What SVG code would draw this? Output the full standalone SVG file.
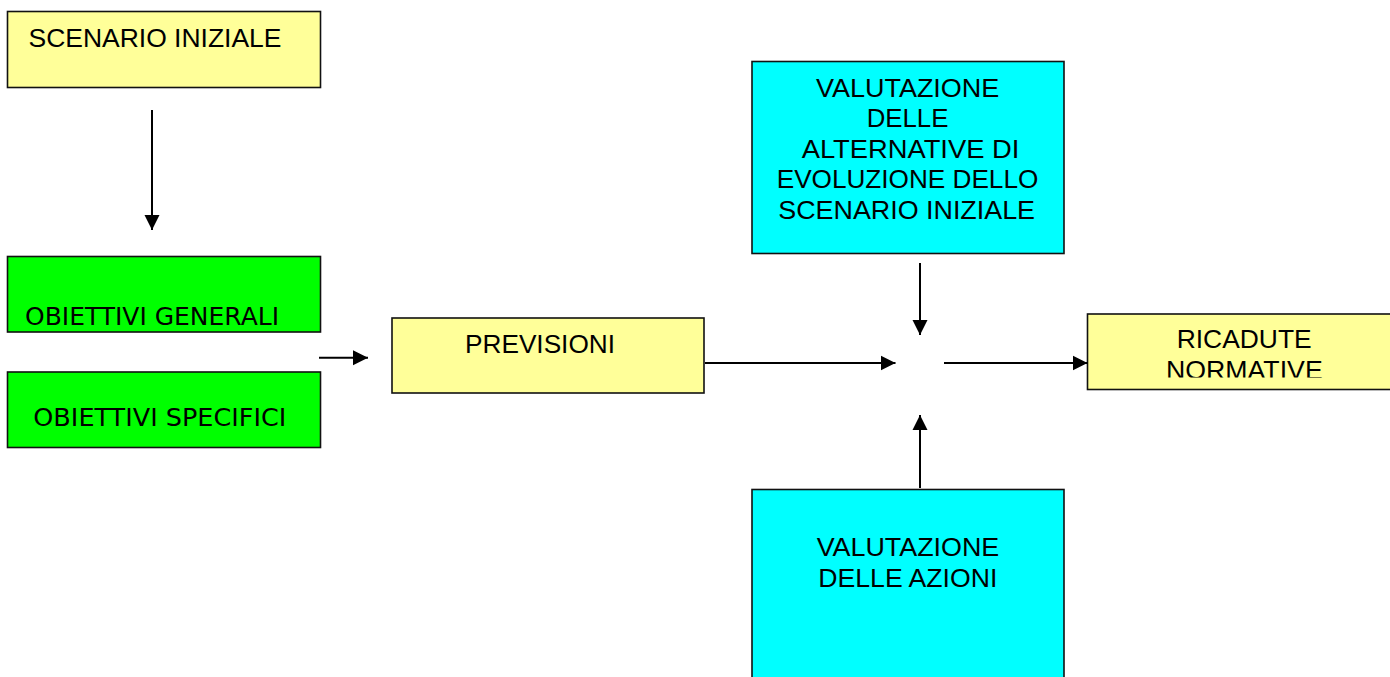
<svg xmlns="http://www.w3.org/2000/svg" width="1390" height="677" viewBox="0 0 1390 677">
<style>
.box{stroke:#111;stroke-width:1.6}
.y{fill:#FFFF99}
.g{fill:#00FF00}
.c{fill:#00FFFF}
.t{font-family:"Liberation Sans",Arial,sans-serif;font-size:26px;fill:#000}
.th{font-family:"DejaVu Sans",Tahoma,sans-serif;font-size:25px;fill:#000}
.conn{stroke:#000;stroke-width:2;fill:none;marker-end:url(#ah)}
</style>
<defs>
<marker id="ah" markerUnits="userSpaceOnUse" markerWidth="16" markerHeight="16" refX="15" refY="8" orient="auto">
<path d="M0,0.5 L15,8 L0,15.5 Z" fill="#000"/>
</marker>
<clipPath id="clipR"><rect x="1080" y="300" width="320" height="77.5"/></clipPath>
</defs>
<rect width="1390" height="677" fill="#fff"/>
<g id="n-scenario">
<rect class="box y" x="7.5" y="11.5" width="313" height="76"/>
<text class="t" x="28.5" y="46.5" textLength="253" lengthAdjust="spacingAndGlyphs">SCENARIO INIZIALE</text>
</g>
<g id="n-obgen">
<rect class="box g" x="7.5" y="256.5" width="313" height="75.5"/>
<text class="th" x="25" y="324.5" textLength="254" lengthAdjust="spacingAndGlyphs">OBIETTIVI GENERALI</text>
</g>
<g id="n-obspec">
<rect class="box g" x="7.5" y="372" width="313" height="75.5"/>
<text class="th" x="33.3" y="426" textLength="253" lengthAdjust="spacingAndGlyphs">OBIETTIVI SPECIFICI</text>
</g>
<g id="n-previsioni">
<rect class="box y" x="392" y="318" width="312" height="75"/>
<text class="t" x="465" y="352.5" textLength="150" lengthAdjust="spacingAndGlyphs">PREVISIONI</text>
</g>
<g id="n-valalt">
<rect class="box c" x="752" y="61.5" width="312" height="192"/>
<text class="t" x="816" y="96.7" textLength="183.3" lengthAdjust="spacingAndGlyphs">VALUTAZIONE</text>
<text class="t" x="866.7" y="127" textLength="81.7" lengthAdjust="spacingAndGlyphs">DELLE</text>
<text class="t" x="801.7" y="157.7" textLength="217.6" lengthAdjust="spacingAndGlyphs">ALTERNATIVE DI</text>
<text class="t" x="776.7" y="188.3" textLength="261.6" lengthAdjust="spacingAndGlyphs">EVOLUZIONE DELLO</text>
<text class="t" x="778.3" y="218.5" textLength="256.7" lengthAdjust="spacingAndGlyphs">SCENARIO INIZIALE</text>
</g>
<g id="n-ricadute">
<rect class="box y" x="1087.5" y="314" width="320" height="75.5"/>
<text class="t" x="1176.7" y="348.3" textLength="135" lengthAdjust="spacingAndGlyphs">RICADUTE</text>
<text class="t" x="1166" y="378.8" textLength="156.7" lengthAdjust="spacingAndGlyphs" clip-path="url(#clipR)">NORMATIVE</text>
</g>
<g id="n-valaz">
<rect class="box c" x="752" y="489.5" width="312" height="200"/>
<text class="t" x="816.7" y="556.3" textLength="182.6" lengthAdjust="spacingAndGlyphs">VALUTAZIONE</text>
<text class="t" x="818.3" y="586.7" textLength="179" lengthAdjust="spacingAndGlyphs">DELLE AZIONI</text>
</g>
<g id="connectors">
<line class="conn" x1="152" y1="110" x2="152" y2="230"/>
<line class="conn" x1="319" y1="357.7" x2="368" y2="357.7"/>
<line class="conn" x1="705" y1="363" x2="895.5" y2="363"/>
<line class="conn" x1="944" y1="363" x2="1087.5" y2="363"/>
<line class="conn" x1="920" y1="263" x2="920" y2="335"/>
<line class="conn" x1="920" y1="488" x2="920" y2="415"/>
</g>
</svg>
